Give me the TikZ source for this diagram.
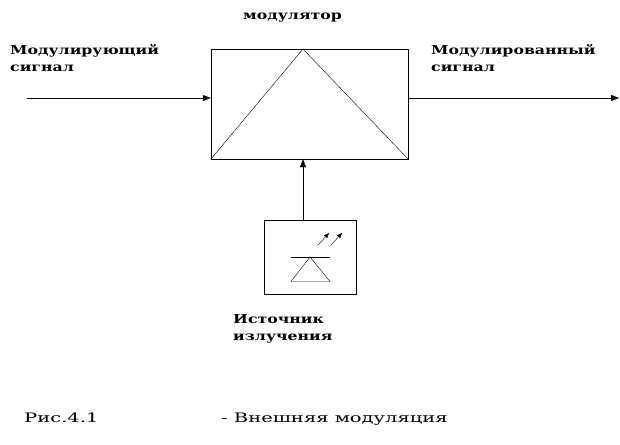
\documentclass[tikz,border=0pt]{standalone}
\usepackage{fontspec}
\setmainfont{DejaVu Serif}
\newfontfamily\sigfont{DejaVu Serif}[FakeStretch=1.28]
\newfontfamily\capfont{DejaVu Serif}[FakeStretch=1.5]
\usetikzlibrary{calc}
\usetikzlibrary{arrows.meta}
\tikzset{
    block/.style = {draw, inner sep=0pt},
    arr/.style = {-{Triangle[length=8pt,width=6pt]}},
    ray/.style = {-{Triangle[length=5pt,width=4pt]}},
    signame/.style = {font=\sigfont\bfseries\fontsize{12.3}{17}\selectfont, align=left, anchor=base west, inner sep=0pt},
    capname/.style = {font=\capfont\fontsize{13}{16}\selectfont, anchor=base west, inner sep=0pt}
}

\begin{document}
\begin{tikzpicture}[x=1pt,y=-1pt]
\useasboundingbox (0,0) rectangle (620,444);
\node[block, minimum width=197pt, minimum height=110pt] (mod) at (309.5,104) {};
\node[block, minimum width=92pt, minimum height=74pt] (src) at (310,257) {};
\coordinate (P) at (303,49);
\coordinate (in) at (27,98);
\coordinate (out) at (619,98);
\draw (mod.south west) -- (P) -- (mod.south east);
\draw[arr] (in) -- (in -| mod.west);
\draw[arr] (out -| mod.east) -- (out);
\draw[arr] (src.north -| P) -- (mod.south -| P);
% diode
\coordinate (D) at (310,257);
\draw ($(D)+(-19,0)$) -- ($(D)+(20,0)$);
\draw (D) -- ($(D)+(-19,24.5)$) -- ($(D)+(20,24.5)$) -- cycle;
\draw[ray] ($(D)+(8,-12)$) -- ($(D)+(19,-24)$);
\draw[ray] ($(D)+(21,-12)$) -- ($(D)+(32,-24)$);
% texts
\node[signame] (modlbl) at (243,20) {модулятор};
\node[signame] (inlbl) at (10,71) {Модулирующий\\сигнал};
\node[signame] (outlbl) at (431,71) {Модулированный\\сигнал};
\node[signame] (srclbl) at (233,340) {Источник\\излучения};
\node[capname] (fig) at (24,422) {Рис.4.1};
\node[capname] (figtxt) at (221,422) {- Внешняя модуляция};
\end{tikzpicture}
\end{document}
